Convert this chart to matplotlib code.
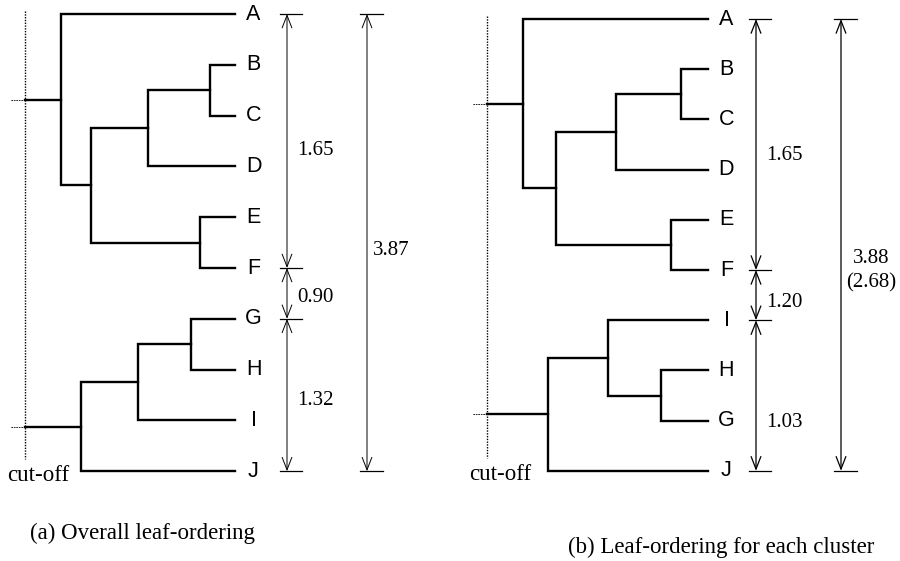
import matplotlib.pyplot as plt

# (a) overall leaf-ordering
leaves_a = ["A", "B", "C", "D", "E", "F", "G", "H", "I", "J"]
merges_a = [("B", "C", 0.25), ("BC", "D", 0.87), ("E", "F", 0.35),
            ("BCD", "EF", 1.44), ("A", "BCDEF", 1.74),
            ("G", "H", 0.44), ("GH", "I", 0.97), ("GHI", "J", 1.54)]
roots_a = ["ABCDEF", "GHIJ"]
cutoff_a = 2.10
spans_a = [("A", "F", "1.65"), ("F", "G", "0.90"), ("G", "J", "1.32")]
total_a = ("A", "J", "3.87")

# (b) leaf-ordering for each cluster
leaves_b = ["A", "B", "C", "D", "E", "F", "I", "H", "G", "J"]
merges_b = [("B", "C", 0.27), ("BC", "D", 0.92), ("E", "F", 0.37),
            ("BCD", "EF", 1.52), ("A", "BCDEF", 1.85),
            ("H", "G", 0.47), ("I", "HG", 1.00), ("IHG", "J", 1.60)]
roots_b = ["ABCDEF", "IHGJ"]
cutoff_b = 2.21
spans_b = [("A", "F", "1.65"), ("F", "I", "1.20"), ("I", "J", "1.03")]
total_b = ("A", "J", "3.88\n(2.68)")

SERIF = "Liberation Serif"
SANS = "Liberation Sans"
W, H = 900, 561

fig = plt.figure(figsize=(9, 5.61), dpi=100)


def panel(x0, leaf_end, top, step, leaves, merges, roots, cutoff, spans, total,
          dim_off, tot_off, span_dy, tot_dy, tot_lw):
    ax = fig.add_axes([x0 / W, 0, 450 / W, 1])
    ax.set_xlim(leaf_end / 100, (leaf_end - 450) / 100)
    ax.set_ylim((H - top) / step, -top / step)
    ax.axis("off")

    # tree
    pos = {n: (i, 0.0) for i, n in enumerate(leaves)}
    for a, b, h in merges:
        (ya, ha), (yb, hb) = pos[a], pos[b]
        ax.plot([ha, h, h, hb], [ya, ya, yb, yb], color="black", lw=1.7,
                solid_joinstyle="miter")
        pos[a + b] = ((ya + yb) / 2, h)
    stub = cutoff + 0.15
    for r in roots:
        y, h = pos[r]
        ax.plot([h, cutoff], [y, y], color="black", lw=1.7)
        ax.plot([cutoff, stub], [y, y], color="black", lw=0.6, ls=(0, (2, 1)))
    ax.plot([cutoff, cutoff], [-0.05, 8.75], color="black", lw=1.0, ls=(0, (1, 1)))
    ax.text(cutoff + 0.18, 9.08, "cut-off", family=SERIF, size=16.5,
            ha="left", va="center")

    for i, n in enumerate(leaves):
        ax.text(-0.185, i, n, family=SANS, size=15.5, ha="center", va="center")

    row = {n: i for i, n in enumerate(leaves)}
    arrow = dict(arrowstyle="<->,head_length=0.9,head_width=0.35", color="black",
                 shrinkA=0, shrinkB=0)

    # spans between clusters
    xd = -dim_off / 100
    for (a, b, t), dy in zip(spans, span_dy):
        ax.annotate("", xy=(xd, row[a]), xytext=(xd, row[b]),
                    arrowprops=dict(arrow, lw=tot_lw))
        ax.text(xd - 0.10, (row[a] + row[b]) / 2 + dy, t, family=SERIF,
                size=15, ha="left", va="center")
    ends = sorted({row[a] for a, _, _ in spans} | {row[b] for _, b, _ in spans})
    for y in ends:
        ax.plot([xd + 0.07, xd - 0.15], [y, y], color="black", lw=0.9)

    # total span
    a, b, t = total
    xt = -tot_off / 100
    ax.annotate("", xy=(xt, row[a]), xytext=(xt, row[b]),
                arrowprops=dict(arrow, lw=tot_lw))
    for y in (row[a], row[b]):
        ax.plot([xt + 0.07, xt - 0.16], [y, y], color="black", lw=0.9)
    ax.text(xt - tot_dy[0], (row[a] + row[b]) / 2 + tot_dy[1], t, family=SERIF,
            size=15, ha="center", va="center", linespacing=1.35)


panel(0, 235, 14, 50.8, leaves_a, merges_a, roots_a, cutoff_a, spans_a, total_a,
      52, 132, [0.18, 0.09, 0.1], (0.24, 0.15), 0.7)
panel(450, 258, 19, 50.2, leaves_b, merges_b, roots_b, cutoff_b, spans_b, total_b,
      48, 133, [0.21, 0.14, 0.53], (0.30, 0.52), 0.9)

fig.text(142 / W, 1 - 533 / H, "(a) Overall leaf-ordering", family=SERIF,
         size=16.5, ha="center", va="center")
fig.text(721 / W, 1 - 547 / H, "(b) Leaf-ordering for each cluster", family=SERIF,
         size=16.5, ha="center", va="center")

fig.savefig("out.png", dpi=100, facecolor="white")
